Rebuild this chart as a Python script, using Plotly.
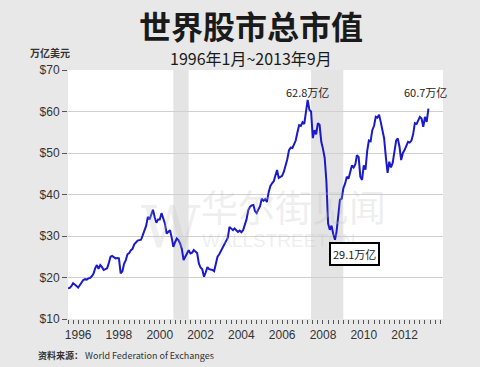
import plotly.graph_objects as go
import pandas as pd

# Monthly world stock market capitalisation, trillion USD (Jan 1996 - Sep 2013)
values = [
    # 1996
    17.4, 17.5, 17.9, 18.6, 18.3, 17.9, 17.6, 18.2, 18.7, 19.4, 19.6, 19.5,
    # 1997
    19.8, 19.9, 20.3, 20.9, 22.2, 23.0, 22.1, 23.0, 22.5, 21.8, 22.0, 22.2,
    # 1998
    23.5, 25.0, 25.2, 24.9, 24.6, 24.7, 24.6, 21.0, 21.5, 23.3, 24.2, 25.6,
    # 1999
    25.9, 26.6, 26.9, 28.0, 28.6, 28.9, 29.0, 29.1, 30.2, 31.2, 32.5, 34.6,
    # 2000
    34.0, 35.2, 36.3, 34.5, 33.2, 34.0, 34.0, 35.5, 34.0, 33.0, 30.6, 31.0,
    # 2001
    31.4, 29.5, 27.4, 28.5, 29.4, 29.0, 28.2, 26.8, 24.2, 25.0, 26.0, 26.6,
    # 2002
    25.8, 26.0, 26.6, 26.3, 25.9, 23.4, 22.4, 22.0, 20.2, 21.2, 22.5, 22.0,
    # 2003
    21.9, 21.8, 21.5, 23.5, 25.0, 25.6, 26.4, 27.0, 27.8, 29.0, 29.6, 32.2,
    # 2004
    31.9, 31.4, 31.8, 31.5, 31.0, 31.3, 30.9, 31.4, 32.7, 34.0, 36.2, 37.0,
    # 2005
    37.4, 37.5, 36.0, 35.5, 36.4, 37.2, 39.0, 38.5, 38.9, 38.2, 40.5, 42.0,
    # 2006
    42.7, 43.2, 44.5, 45.9, 44.0, 44.2, 44.5, 45.5, 47.0, 48.5, 50.7, 51.3,
    # 2007
    51.2, 52.3, 53.0, 55.0, 56.7, 56.5, 57.4, 57.0, 60.0, 62.8, 60.4, 60.0,
    # 2008
    53.6, 55.5, 54.5, 57.2, 56.8, 52.7, 51.0, 48.8, 43.0, 33.0, 31.5, 32.5,
    # 2009
    30.5, 29.1, 31.0, 35.0, 38.7, 39.0, 41.5, 42.6, 44.3, 43.8, 45.2, 47.0,
    # 2010
    46.5, 47.3, 49.5, 49.0, 44.3, 43.5, 47.0, 46.0, 50.5, 53.0, 52.8, 55.5,
    # 2011
    56.5, 58.7, 58.5, 59.2, 57.5, 55.0, 53.5, 49.0, 45.2, 47.9, 46.5, 47.6,
    # 2012
    50.5, 53.0, 53.5, 51.5, 48.3, 50.0, 50.7, 51.8, 52.7, 52.5, 53.0, 54.5,
    # 2013
    57.2, 57.0, 57.8, 58.7, 58.3, 56.3, 58.7, 57.5, 60.7,
]
dates = pd.date_range("1996-01-01", periods=len(values), freq="MS")

recessions = [("2001-03-01", "2001-11-30"), ("2007-12-01", "2009-06-30")]
tick_years = [1996, 1998, 2000, 2002, 2004, 2006, 2008, 2010, 2012]
y_ticks = [10, 20, 30, 40, 50, 60, 70]

annot_peak = ("2007-10-01", 64.6, "62.8万亿")
annot_last = ("2013-07-15", 64.6, "60.7万亿")
annot_low = ("2010-01-10", 25.7, "29.1万亿")

font_cn = "Noto Sans CJK SC"

fig = go.Figure()
fig.add_trace(go.Scatter(
    x=dates, y=values, mode="lines",
    line=dict(color="#1a1ac8", width=2),
    hoverinfo="skip", showlegend=False,
))

for start, end in recessions:
    fig.add_vrect(x0=start, x1=end, fillcolor="#e4e4e4", line_width=0, layer="below")

fig.update_layout(
    width=480, height=367,
    margin=dict(l=68, r=37, t=70, b=48),
    paper_bgcolor="#e8e8e8",
    plot_bgcolor="#ffffff",
    font=dict(family="Liberation Sans, Arial, sans-serif", color="#333333", size=12),
    showlegend=False,
)

fig.update_xaxes(
    type="date",
    range=["1996-01-01", "2014-05-20"],
    tickmode="array",
    tickvals=[f"{y}-07-01" for y in tick_years],
    ticktext=[str(y) for y in tick_years],
    ticks="", showgrid=False, zeroline=False, showline=False,
    ticklabelstandoff=7,
    tickfont=dict(size=12, color="#333333"),
    minor=dict(tickmode="linear", tick0="1996-01-01", dtick="M3",
               ticks="outside", ticklen=4, tickcolor="#555555", tickwidth=1, showgrid=False),
)
fig.update_yaxes(
    range=[10, 70],
    tickmode="array", tickvals=y_ticks, ticktext=[f"${v}" for v in y_ticks],
    ticks="outside", ticklen=5, tickcolor="#555555",
    showgrid=True, gridcolor="#d0d0d0", gridwidth=1,
    zeroline=False, showline=False,
    tickfont=dict(size=12, color="#333333"),
)

# watermark
wm = "rgba(190,190,190,0.25)"
fig.add_annotation(xref="paper", yref="paper", x=0.19, y=0.37, text="W", showarrow=False,
                   font=dict(family="DejaVu Serif", size=58, color=wm))
fig.add_annotation(xref="paper", yref="paper", x=0.6, y=0.455, text="华尔街见闻", showarrow=False,
                   font=dict(family=font_cn, size=37, color=wm))
fig.add_annotation(xref="paper", yref="paper", x=0.56, y=0.265, text="WALLSTREETCN", showarrow=False,
                   font=dict(family="Liberation Sans", size=19, color=wm))

# value labels
for xd, yv, txt in [annot_peak, annot_last]:
    fig.add_annotation(x=xd, y=yv, text=txt, showarrow=False,
                       font=dict(family=font_cn, size=11, color="#222222"))
fig.add_annotation(x=annot_low[0], y=annot_low[1], text=annot_low[2], showarrow=False,
                   font=dict(family=font_cn, size=11, color="#222222"),
                   bgcolor="#ffffff", bordercolor="#000000", borderwidth=2, borderpad=2)

# titles
fig.add_annotation(xref="paper", yref="paper", x=0.5, xanchor="center", y=1, yshift=45,
                   yanchor="middle", text="<b>世界股市总市值</b>", showarrow=False,
                   xshift=-5, font=dict(family=font_cn, size=32, color="#1a1a1a"))
fig.add_annotation(xref="paper", yref="paper", x=0.5, y=1, yshift=12, xshift=-5,
                   yanchor="middle", text="1996年1月~2013年9月", showarrow=False,
                   font=dict(family=font_cn, size=16, color="#1a1a1a"))
fig.add_annotation(xref="paper", yref="paper", x=0, xshift=-40, xanchor="left", y=1, yshift=18,
                   yanchor="middle", text="<b>万亿美元</b>", showarrow=False,
                   font=dict(family=font_cn, size=10, color="#333333"))
fig.add_annotation(xref="paper", yref="paper", x=0, xshift=-32, xanchor="left", y=0, yshift=-36,
                   yanchor="middle",
                   text="<b>资料来源：</b> World Federation of Exchanges", showarrow=False,
                   font=dict(family=font_cn, size=9, color="#333333"))

fig.write_html(
    "out.html",
    config={"displayModeBar": False},
    post_script="document.body.style.margin='0';document.body.style.background='#e8e8e8';",
)
